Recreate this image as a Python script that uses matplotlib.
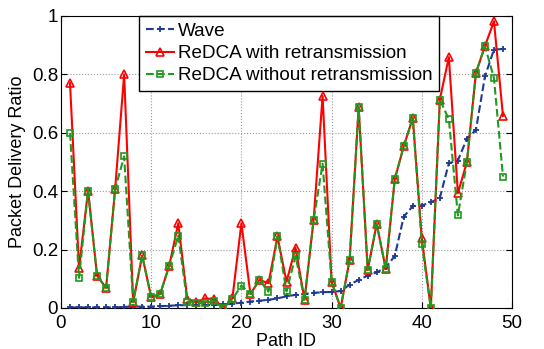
import numpy as np
import matplotlib
matplotlib.use("Agg")
import matplotlib.pyplot as plt

plt.rcParams["font.family"] = ["Liberation Sans", "DejaVu Sans"]

path_id = list(range(1, 50))
wave = [0.002, 0.002, 0.002, 0.002, 0.002, 0.002, 0.004, 0.004, 0.005, 0.005,
        0.006, 0.008, 0.009, 0.010, 0.010, 0.010, 0.011, 0.012, 0.015, 0.018,
        0.022, 0.025, 0.028, 0.033, 0.040, 0.045, 0.048, 0.052, 0.054, 0.055,
        0.058, 0.080, 0.096, 0.111, 0.122, 0.139, 0.178, 0.313, 0.349, 0.351,
        0.362, 0.377, 0.496, 0.505, 0.580, 0.610, 0.793, 0.885, 0.887]
with_retx = [0.770, 0.137, 0.402, 0.110, 0.069, 0.407, 0.800, 0.020, 0.180, 0.037,
             0.048, 0.145, 0.290, 0.031, 0.020, 0.033, 0.030, 0.000, 0.033, 0.290,
             0.048, 0.096, 0.085, 0.245, 0.090, 0.206, 0.029, 0.300, 0.726, 0.090,
             0.000, 0.165, 0.688, 0.130, 0.288, 0.134, 0.441, 0.554, 0.651, 0.239,
             0.000, 0.714, 0.859, 0.393, 0.500, 0.805, 0.897, 0.982, 0.658]
without_retx = [0.599, 0.103, 0.402, 0.110, 0.069, 0.407, 0.519, 0.020, 0.180, 0.037,
                0.048, 0.145, 0.247, 0.022, 0.018, 0.016, 0.025, 0.000, 0.030, 0.077,
                0.048, 0.096, 0.056, 0.245, 0.057, 0.178, 0.029, 0.300, 0.494, 0.090,
                0.000, 0.165, 0.688, 0.130, 0.288, 0.134, 0.441, 0.554, 0.651, 0.219,
                0.000, 0.714, 0.646, 0.317, 0.500, 0.805, 0.897, 0.787, 0.450]

fig = plt.figure(figsize=(5.44, 3.49), dpi=100)
ax = fig.add_axes([61 / 544, 1 - 308 / 349, 451 / 544, 292 / 349])

ax.plot(path_id, wave, "--", color="#1f3a93", lw=1.5, marker="+", ms=5,
        mew=1.3, label="Wave", zorder=3)
ax.plot(path_id, with_retx, "-", color="red", lw=1.5, marker="^", ms=6,
        mfc="none", mew=1.2, label="ReDCA with retransmission", zorder=4)
ax.plot(path_id, without_retx, "--", color="#1e9a1e", lw=1.5, marker="s", ms=5,
        mfc="none", mew=1.2, label="ReDCA without retransmission", zorder=5)

ax.set_xlim(0, 50)
ax.set_ylim(0, 1)
ax.set_xticks(np.arange(0, 51, 10))
ax.set_yticks([0, 0.2, 0.4, 0.6, 0.8, 1])
ax.set_yticklabels(["0", "0.2", "0.4", "0.6", "0.8", "1"])
ax.tick_params(direction="in", labelsize=13.5, top=True, right=True, length=4)
ax.tick_params(axis="x", pad=5)
ax.tick_params(axis="y", pad=2)
ax.grid(True, linestyle=":", color="#999999", lw=0.8)
ax.set_xlabel("Path ID", fontsize=13, labelpad=1)
ax.set_ylabel("Packet Delivery Ratio", fontsize=13, labelpad=4)

leg = ax.legend(loc="upper left", bbox_to_anchor=((139 - 61) / 451, 1.0), fontsize=13.6,
                fancybox=False, framealpha=1, edgecolor="black",
                borderpad=0.35, labelspacing=0.27, handlelength=1.5,
                handletextpad=0.2, borderaxespad=0)
leg.get_frame().set_linewidth(1.0)
leg.set_zorder(2)

fig.savefig("out.png", dpi=100)
